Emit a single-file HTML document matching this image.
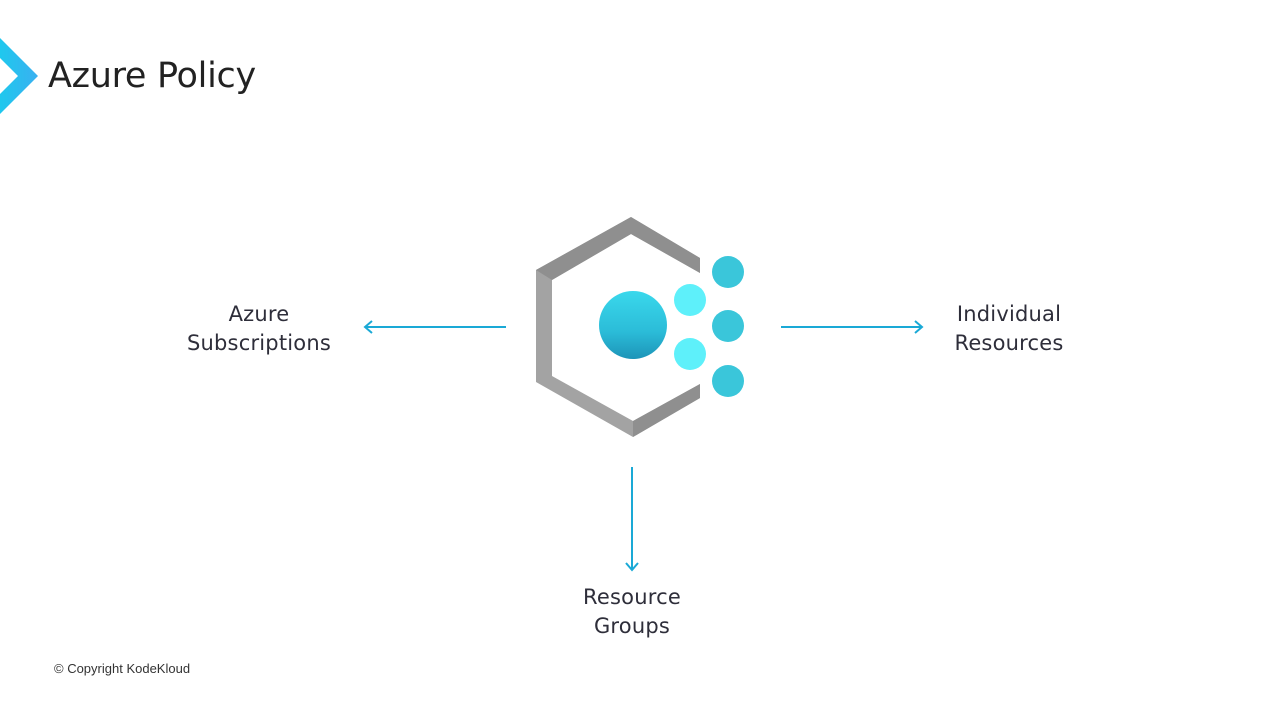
<!DOCTYPE html>
<html><head><meta charset="utf-8"><style>
body{margin:0;width:1280px;height:720px;background:#fff;overflow:hidden;position:relative;font-family:"Liberation Sans",sans-serif}
.t{position:absolute;color:#2e2e3a;font-size:21px;text-align:center;line-height:29px;font-family:"DejaVu Sans","Liberation Sans",sans-serif;letter-spacing:0.2px}
</style></head><body>
<svg width="1280" height="720" style="position:absolute;left:0;top:0">
<defs>
<linearGradient id="cg" x1="0" y1="0" x2="1" y2="0"><stop offset="0" stop-color="#1fc8ee"/><stop offset="1" stop-color="#3ab0f0"/></linearGradient>
<linearGradient id="bg" x1="0" y1="0" x2="0" y2="1"><stop offset="0" stop-color="#3ad8ec"/><stop offset="0.6" stop-color="#2bbcd8"/><stop offset="1" stop-color="#1d94b8"/></linearGradient>
</defs>
<polygon points="0,38 38,76 0,114 0,94 18,76 0,58" fill="url(#cg)"/>
<polygon points="700,258 631,217 536,270 536,382 633,437 700,398 700,384 633,421 552,376 552,280 631,234 700,273" fill="#a3a3a3"/>
<polygon points="700,258 631,217 536,270 552,280 631,234 700,273" fill="#8f8f8f"/>
<polygon points="633,437 700,398 700,384 633,421" fill="#8f8f8f"/>
<circle cx="633" cy="325" r="34" fill="url(#bg)"/>
<circle cx="690" cy="300" r="16" fill="#5ef0fa"/>
<circle cx="690" cy="354" r="16" fill="#5ef0fa"/>
<circle cx="728" cy="272" r="16" fill="#3ac6da"/>
<circle cx="728" cy="326" r="16" fill="#3ac6da"/>
<circle cx="728" cy="381" r="16" fill="#3ac6da"/>
<g stroke="#1aa9d6" stroke-width="2" fill="none">
<line x1="506" y1="327" x2="366" y2="327"/><polyline points="372,321 365,327 372,333"/>
<line x1="781" y1="327" x2="921" y2="327"/><polyline points="915,321 922,327 915,333"/>
<line x1="632" y1="467" x2="632" y2="569"/><polyline points="626,563 632,570 638,563"/>
</g>
</svg>
<div style="position:absolute;left:48px;top:56px;font-size:35px;color:#222;font-family:'DejaVu Sans','Liberation Sans',sans-serif;letter-spacing:-0.3px">Azure Policy</div>
<div class="t" style="left:159px;top:300px;width:200px">Azure<br>Subscriptions</div>
<div class="t" style="left:909px;top:300px;width:200px">Individual<br>Resources</div>
<div class="t" style="left:532px;top:583px;width:200px">Resource<br>Groups</div>
<div style="position:absolute;left:54px;top:661px;font-size:13px;color:#333">© Copyright KodeKloud</div>
</body></html>
